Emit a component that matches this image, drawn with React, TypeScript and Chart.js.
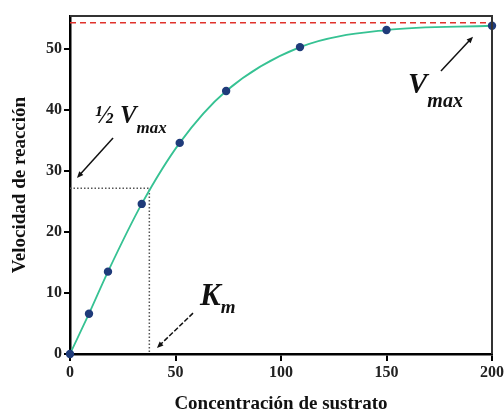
import React, { useEffect, useRef } from 'react';
import { Chart, registerables } from 'chart.js';

Chart.register(...registerables);

// ---- data ----
const substrate = [0, 9, 18, 34, 52, 74, 109, 150, 200];
const velocity = [0, 6.6, 13.5, 24.6, 34.6, 43.1, 50.3, 53.1, 53.8];
const xTicks = [0, 50, 100, 150, 200];
const yTicks = [0, 10, 20, 30, 40, 50];
const VMAX = 54.3;
const KM = 37.6;
const HALF_VMAX = 27.15;
const X_MIN = 0;
const X_MAX = 200;
const Y_MIN = 0;
const Y_MAX = 55.4;

const SERIF = '"Liberation Serif", "Times New Roman", serif';

const annotationPlugin = {
  id: 'mmAnnotations',
  afterDatasetsDraw(chart: any) {
    const { ctx, chartArea: a, scales } = chart;
    const xs = scales.x;
    const ys = scales.y;
    const px = (v: number) => xs.getPixelForValue(v);
    const py = (v: number) => ys.getPixelForValue(v);
    ctx.save();

    // frame (top and right)
    ctx.strokeStyle = '#333';
    ctx.lineWidth = 2;
    ctx.beginPath();
    ctx.moveTo(a.left, a.top);
    ctx.lineTo(a.right, a.top);
    ctx.lineTo(a.right, a.bottom);
    ctx.stroke();

    const arrow = (x1: number, y1: number, x2: number, y2: number, dashed = false) => {
      const X1 = px(x1), Y1 = py(y1), X2 = px(x2), Y2 = py(y2);
      const ang = Math.atan2(Y2 - Y1, X2 - X1);
      const head = 7;
      ctx.strokeStyle = '#111';
      ctx.fillStyle = '#111';
      ctx.lineWidth = 1.5;
      ctx.setLineDash(dashed ? [5, 2] : []);
      ctx.beginPath();
      ctx.moveTo(X1, Y1);
      ctx.lineTo(X2 - Math.cos(ang) * head * 0.6, Y2 - Math.sin(ang) * head * 0.6);
      ctx.stroke();
      ctx.setLineDash([]);
      ctx.beginPath();
      ctx.moveTo(X2, Y2);
      ctx.lineTo(X2 - head * Math.cos(ang - 0.4), Y2 - head * Math.sin(ang - 0.4));
      ctx.lineTo(X2 - head * Math.cos(ang + 0.4), Y2 - head * Math.sin(ang + 0.4));
      ctx.closePath();
      ctx.fill();
    };

    const label = (
      main: string,
      sub: string,
      xv: number,
      yv: number,
      mainSize: number,
      subSize: number,
      drop: number
    ) => {
      const X = px(xv), Y = py(yv);
      ctx.fillStyle = '#111';
      ctx.textBaseline = 'alphabetic';
      ctx.textAlign = 'left';
      ctx.font = `italic bold ${mainSize}px ${SERIF}`;
      ctx.fillText(main, X, Y);
      const w = ctx.measureText(main).width;
      ctx.font = `italic bold ${subSize}px ${SERIF}`;
      ctx.fillText(sub, X + w, Y + drop);
    };

    arrow(20.4, 35.4, 3.3, 28.85);
    arrow(58.3, 6.7, 41.2, 1.0, true);
    arrow(175.8, 46.4, 191.0, 52.0);

    label('\u00BD V', 'max', 11.8, 37.9, 25, 17, 10);
    label('V', 'max', 160.2, 42.8, 29, 20, 14);
    label('K', 'm', 61.6, 8.0, 31, 19, 8);

    ctx.restore();
  },
};

export default function App() {
  const ref = useRef<HTMLCanvasElement | null>(null);

  useEffect(() => {
    if (!ref.current) return;
    const points = substrate.map((s, i) => ({ x: s, y: velocity[i] }));
    const tickFont = { family: SERIF, size: 16, weight: 'bold' as const };
    const titleFont = { family: SERIF, size: 19, weight: 'bold' as const };

    const chart = new Chart(ref.current, {
      type: 'scatter',
      data: {
        datasets: [
          {
            label: 'Velocidad',
            data: points,
            showLine: true,
            borderColor: '#36c293',
            borderWidth: 1.8,
            cubicInterpolationMode: 'monotone',
            pointRadius: 4.2,
            pointBackgroundColor: '#1f3b7a',
            pointBorderColor: '#1f3b7a',
            pointBorderWidth: 0,
            clip: false as any,
            order: 0,
          },
          {
            label: 'Vmax',
            data: [
              { x: X_MIN, y: VMAX },
              { x: X_MAX, y: VMAX },
            ],
            showLine: true,
            borderColor: '#e0322c',
            borderWidth: 1.5,
            borderDash: [6, 4],
            pointRadius: 0,
            order: 2,
          },
          {
            label: 'Km',
            data: [
              { x: X_MIN, y: HALF_VMAX },
              { x: KM, y: HALF_VMAX },
              { x: KM, y: Y_MIN },
            ],
            showLine: true,
            borderColor: '#555',
            borderWidth: 1.5,
            borderDash: [1.5, 2],
            pointRadius: 0,
            order: 1,
          },
        ],
      },
      options: {
        animation: false,
        responsive: true,
        maintainAspectRatio: false,
        layout: { padding: { top: 16, right: 12, left: 0, bottom: 0 } },
        plugins: {
          legend: { display: false },
          tooltip: { enabled: false },
        },
        scales: {
          x: {
            type: 'linear',
            min: X_MIN,
            max: X_MAX,
            afterBuildTicks: (s: any) => {
              s.ticks = xTicks.map((v) => ({ value: v }));
            },
            afterFit: (s: any) => {
              s.height = 58;
              s.paddingRight = 0;
              s.paddingLeft = 0;
            },
            grid: {
              display: true,
              drawOnChartArea: false,
              drawTicks: true,
              tickLength: 7,
              color: '#000',
              lineWidth: 2,
            },
            border: { display: true, color: '#000', width: 2.5 },
            ticks: {
              font: tickFont,
              color: '#222',
              padding: 2,
              maxRotation: 0,
              autoSkip: false,
            },
            title: {
              display: true,
              text: 'Concentración de sustrato',
              font: titleFont,
              color: '#111',
              padding: { top: 0, bottom: -3 },
            },
          },
          y: {
            type: 'linear',
            min: Y_MIN,
            max: Y_MAX,
            afterBuildTicks: (s: any) => {
              s.ticks = yTicks.map((v) => ({ value: v }));
            },
            afterFit: (s: any) => {
              s.width = 70;
            },
            grid: {
              display: true,
              drawOnChartArea: false,
              drawTicks: true,
              tickLength: 6,
              color: '#000',
              lineWidth: 2,
            },
            border: { display: true, color: '#000', width: 2.5 },
            ticks: {
              font: tickFont,
              color: '#222',
              padding: 2,
              autoSkip: false,
            },
            title: {
              display: true,
              text: 'Velocidad de reacción',
              font: titleFont,
              color: '#111',
              padding: { top: 9, bottom: 0 },
            },
          },
        },
      } as any,
      plugins: [annotationPlugin],
    });

    return () => chart.destroy();
  }, []);

  return (
    <div
      style={{
        position: 'absolute',
        left: 0,
        top: 0,
        width: 504,
        height: 412,
        background: '#fff',
      }}
    >
      <canvas ref={ref} />
    </div>
  );
}
